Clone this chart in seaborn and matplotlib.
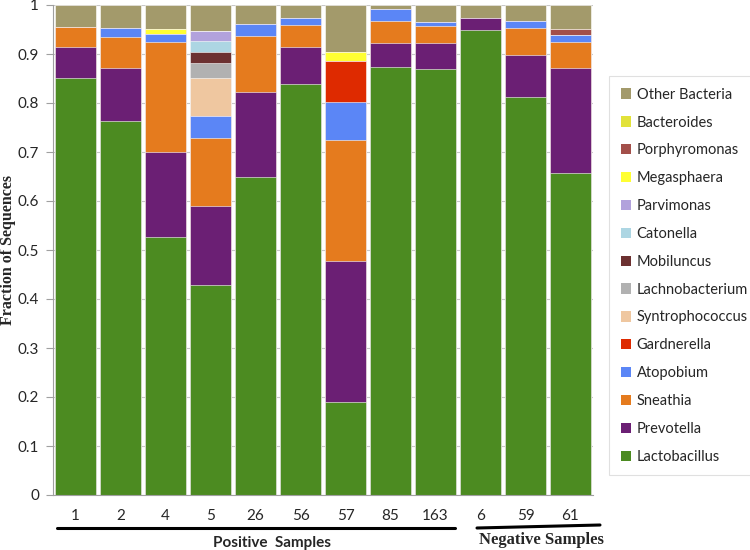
import numpy as np
import pandas as pd
import matplotlib
matplotlib.use("Agg")
import matplotlib.pyplot as plt
import seaborn as sns
from matplotlib.patches import Patch
from matplotlib.lines import Line2D

samples = ["1", "2", "4", "5", "26", "56", "57", "85", "163", "6", "59", "61"]

lactobacillus   = [0.852, 0.763, 0.527, 0.428, 0.650, 0.839, 0.189, 0.874, 0.869, 0.950, 0.813, 0.658]
prevotella      = [0.062, 0.108, 0.173, 0.162, 0.172, 0.075, 0.289, 0.048, 0.054, 0.023, 0.084, 0.214]
sneathia        = [0.042, 0.064, 0.224, 0.138, 0.115, 0.045, 0.246, 0.045, 0.035, 0.000, 0.057, 0.053]
atopobium       = [0.000, 0.019, 0.017, 0.046, 0.024, 0.014, 0.079, 0.024, 0.008, 0.000, 0.014, 0.014]
gardnerella     = [0.000, 0.000, 0.000, 0.000, 0.000, 0.000, 0.083, 0.000, 0.000, 0.000, 0.000, 0.000]
syntrophococcus = [0.000, 0.000, 0.000, 0.078, 0.000, 0.000, 0.000, 0.000, 0.000, 0.000, 0.000, 0.000]
lachnobacterium = [0.000, 0.000, 0.000, 0.029, 0.000, 0.000, 0.000, 0.000, 0.000, 0.000, 0.000, 0.000]
mobiluncus      = [0.000, 0.000, 0.000, 0.024, 0.000, 0.000, 0.000, 0.000, 0.000, 0.000, 0.000, 0.000]
catonella       = [0.000, 0.000, 0.000, 0.022, 0.000, 0.000, 0.000, 0.000, 0.000, 0.000, 0.000, 0.000]
parvimonas      = [0.000, 0.000, 0.000, 0.020, 0.000, 0.000, 0.000, 0.000, 0.000, 0.000, 0.000, 0.000]
megasphaera     = [0.000, 0.000, 0.010, 0.000, 0.000, 0.000, 0.019, 0.000, 0.000, 0.000, 0.000, 0.000]
porphyromonas   = [0.000, 0.000, 0.000, 0.000, 0.000, 0.000, 0.000, 0.000, 0.000, 0.000, 0.000, 0.012]
bacteroides     = [0.000, 0.000, 0.000, 0.000, 0.000, 0.000, 0.000, 0.000, 0.000, 0.000, 0.000, 0.000]
other_bacteria  = [0.044, 0.046, 0.049, 0.053, 0.039, 0.027, 0.095, 0.009, 0.034, 0.027, 0.032, 0.049]

genera = ["Lactobacillus", "Prevotella", "Sneathia", "Atopobium", "Gardnerella",
          "Syntrophococcus", "Lachnobacterium", "Mobiluncus", "Catonella", "Parvimonas",
          "Megasphaera", "Porphyromonas", "Bacteroides", "Other Bacteria"]
values = [lactobacillus, prevotella, sneathia, atopobium, gardnerella, syntrophococcus,
          lachnobacterium, mobiluncus, catonella, parvimonas, megasphaera, porphyromonas,
          bacteroides, other_bacteria]
colors = ["#4c8b21", "#6b1f74", "#e57b1e", "#5b86f6", "#de2a00", "#efc7a0",
          "#b1b1b1", "#6c3131", "#add6e3", "#b2a2dc", "#ffff33", "#a34f4a",
          "#e2e23a", "#a39a6b"]

df = pd.DataFrame({g: v for g, v in zip(genera, values)})
df["sample"] = samples
cum = df[genera].cumsum(axis=1)

sns.set_theme(style="white")
plt.rcParams['font.family'] = ['Lato', 'DejaVu Sans']

fig = plt.figure(figsize=(7.5, 5.5), dpi=100)
ax = fig.add_axes([53/750, 55/550, 540/750, 490/550])

for g, c in reversed(list(zip(genera, colors))):
    sns.barplot(x=df["sample"], y=cum[g], order=samples, color=c, saturation=1,
                width=0.89, edgecolor="white", linewidth=0.4, ax=ax, zorder=2)

ax.set_xlim(-0.5, 11.5)
ax.set_ylim(0, 1)
ax.set_yticks(np.round(np.arange(0, 1.01, 0.1), 1))
ax.set_yticklabels(["0"] + [f"{t:.1f}" for t in np.arange(0.1, 0.95, 0.1)] + ["1"], fontsize=11)
ax.set_xticks(range(len(samples)))
ax.set_xticklabels(samples, fontsize=11)
ax.set_xticks(np.arange(-0.5, 12, 1), minor=True)
ax.tick_params(axis="x", which="major", length=0, pad=10)
ax.tick_params(axis="x", which="minor", length=5, color="#a0a0a0", width=0.8, direction="out")
ax.tick_params(axis="y", length=5, color="#a0a0a0", width=0.8, direction="out", pad=5, left=True)
ax.yaxis.grid(True, color="#c8c8c8", lw=0.8)
ax.set_axisbelow(True)
ax.set_xlabel("")
ax.set_ylabel("")
for s in ["top", "right"]:
    ax.spines[s].set_visible(False)
for s in ["left", "bottom"]:
    ax.spines[s].set_color("#a0a0a0")
    ax.spines[s].set_linewidth(0.8)

fig.text(8/750, 1 - 250/550, "Fraction of Sequences", rotation=90, ha="center", va="center",
         family="Liberation Serif", fontweight="bold", fontsize=11.5)

handles = [Patch(facecolor=c, edgecolor="none", label=g) for g, c in zip(genera, colors)][::-1]
leg = fig.legend(handles=handles, loc="upper left", bbox_to_anchor=(609/750, 1 - 76/550),
                 frameon=True, fancybox=False, edgecolor="#d9d9d9", fontsize=10.5,
                 handlelength=0.7, handleheight=0.7, handletextpad=0.4,
                 labelspacing=0.95, borderpad=0.8, borderaxespad=0)
leg.get_frame().set_linewidth(0.8)

fig.add_artist(Line2D([57/750, 455/750], [1 - 528/550, 1 - 528/550], color="black", lw=2.2))
fig.add_artist(Line2D([477/750, 600/750], [1 - 528/550, 1 - 525/550], color="black", lw=2.2))
fig.text(272/750, 1 - 543/550, "Positive  Samples", ha="center", va="center",
         fontweight="bold", fontsize=11)
fig.text(541/750, 1 - 540/550, "Negative Samples", ha="center", va="center",
         family="Liberation Serif", fontweight="bold", fontsize=12)

fig.savefig("out.png", dpi=100)
